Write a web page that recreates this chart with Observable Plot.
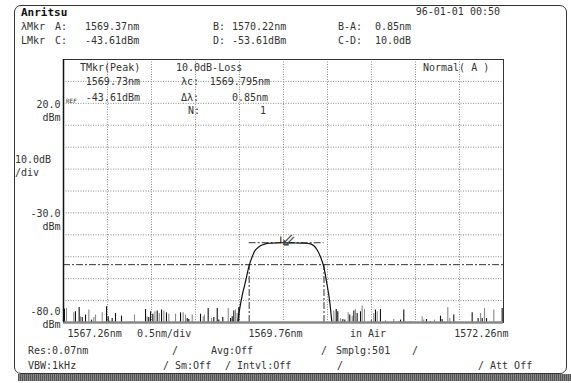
<!DOCTYPE html>
<html><head><meta charset="utf-8">
<script src="https://cdn.jsdelivr.net/npm/d3@7"></script>
<script src="https://cdn.jsdelivr.net/npm/@observablehq/plot@0.6"></script>
<style>
body{margin:0;background:#fff}
#wrap{position:relative;width:571px;height:383px;overflow:hidden;background:#fff;font-family:"DejaVu Sans Mono",monospace;font-size:10px;color:#333}
#wrap svg{position:absolute;left:0;top:0}
.t{position:absolute;white-space:pre;line-height:1;transform:translateY(-50%)}
#box{position:absolute;left:14px;top:5px;width:551px;height:367px;border:1px solid #333;border-radius:7px}
#shadow{position:absolute;left:18px;top:374px;width:553px;height:7px;background:repeating-linear-gradient(90deg,#555 0 1px,#888 1px 2px)}
</style></head><body><div id="wrap"><div id="box"></div><div id="shadow"></div></div>
<script>
// ---- data ----
const xDomain = [1567.26, 1572.26];
const yDomain = [-80, 40];
const xGrid = [1567.76, 1568.26, 1568.76, 1569.26, 1569.76, 1570.26, 1570.76, 1571.26, 1571.76];
const yGrid = [30, 20, 10, 0, -10, -20, -30, -40, -50, -60, -70];
const xTickVals = [1567.26, 1569.76, 1572.26];
const xTickLabels = ["1567.26nm", "1569.76nm", "1572.26nm"];
const yTickVals = [20, -30];
const yTickLabels = ["20.0\ndBm", "-30.0\ndBm"];
const yBottomVal = [-80];
const yBottomLabel = ["-80.0\ndBm"];

const markerA = 1569.37, markerB = 1570.22;
const levelC = -43.61, levelD = -53.61;
const peakWl = 1569.73, peakDb = -43.61;

const filterWl = [1569.24,1569.263,1569.291,1569.328,1569.366,1569.404,1569.442,1569.499,1569.555,1569.62,1569.73,1569.85,1569.97,1570.067,1570.105,1570.143,1570.180,1570.218,1570.249,1570.275,1570.294,1570.31];
const filterDb = [-80,-73.6,-67.5,-61.4,-54.6,-50,-46.9,-45,-44.1,-43.8,-43.61,-43.7,-43.8,-44.1,-45,-46.9,-50,-54.6,-61.4,-67.5,-73.6,-80];

const noiseWl = [1567.271,1567.294,1567.377,1567.396,1567.438,1567.453,1567.473,1567.510,1567.548,1567.578,1567.604,1567.624,1567.700,1567.749,1567.768,1567.786,1567.813,1567.851,1567.919,1568.021,1568.067,1568.192,1568.211,1568.229,1568.249,1568.275,1568.298,1568.325,1568.348,1568.374,1568.400,1568.430,1568.457,1568.533,1568.590,1568.620,1568.646,1568.666,1568.684,1568.723,1568.817,1568.848,1568.862,1568.904,1568.942,1568.968,1569.007,1569.025,1569.070,1569.132,1569.158,1569.177,1569.195,1569.215,1569.234,1569.252,
1570.332,1570.359,1570.377,1570.408,1570.434,1570.457,1570.495,1570.513,1570.541,1570.559,1570.578,1570.597,1570.635,1570.654,1570.680,1570.757,1570.786,1570.805,1570.825,1570.862,1570.919,1571.013,1571.070,1571.090,1571.127,1571.203,1571.336,1571.354,1571.385,1571.430,1571.476,1571.544,1571.563,1571.627,1571.650,1571.695,1571.904,1571.972,1571.999,1572.018,1572.044,1572.067,1572.150,1572.245];
const noiseDb = [-73.9,-73.6,-75.6,-75.1,-73.1,-77.4,-77.7,-76.6,-74.3,-78.9,-77.7,-76.6,-75.6,-72.8,-77.4,-79.4,-78.2,-75.9,-77.1,-79.7,-76.6,-74.1,-77.4,-77.7,-75.1,-76.2,-75.1,-74.7,-75.9,-74.3,-74.7,-75.6,-76.2,-76.2,-75.6,-75.6,-76.6,-78.2,-78.6,-76.6,-76.2,-77.4,-76.6,-73.6,-78.2,-77.7,-73.6,-78.9,-77.7,-73.6,-78.2,-77.4,-74.7,-74.3,-75.9,-73.1,
-74.7,-74.1,-75.1,-78.2,-78.6,-78.9,-75.6,-76.6,-77.1,-74.7,-74.1,-75.9,-75.1,-72.5,-74.1,-79.2,-75.9,-74.3,-75.1,-74.1,-79.2,-78.6,-79.5,-78.9,-74.3,-79.7,-77.4,-78.9,-78.6,-79.7,-78.9,-77.1,-78.6,-73.1,-78.2,-76.6,-75.6,-78.2,-75.9,-78.2,-73.6,-78.2,-74.3,-73.6];
const noiseShade = ["k","g","g","k","k","g","k","k","g","k","g","g","g","k","k","k","k","k","k","k","g","k","g","k","k","k","g","k","g","k","g","k","g","g","k","g","g","k","k","g","k","g","g","k","g","k","k","k","k","g","k","k","k","g","g","k",
"g","k","k","g","k","k","g","k","g","k","g","k","k","g","g","k","g","k","g","k","g","g","g","k","k","k","g","g","k","k","g","k","k","g","g","k","k","k","g","k","g","k","g","k"];

// ---- tables built from the arrays ----
const filter = filterWl.map((x, i) => ({x, y: filterDb[i]}));
const noise = noiseWl.map((x, i) => ({x, y: noiseDb[i], c: noiseShade[i] === "k" ? "#111" : "#8a8a8a"}));
const xTicks = xTickVals.map((x, i) => ({x, t: xTickLabels[i]}));
const yTicks = yTickVals.map((y, i) => ({y, t: yTickLabels[i]}));
const yBottom = yBottomVal.map((y, i) => ({y, t: yBottomLabel[i]}));

const FONT = "DejaVu Sans Mono";
const dashdot = "7,2,2,2";
const plot = Plot.plot({
  width: 571, height: 383,
  marginLeft: 63, marginRight: 68, marginTop: 59, marginBottom: 61,
  style: {background: "transparent", overflow: "visible", fontFamily: FONT, fontSize: "10px", color: "#333"},
  x: {domain: xDomain, axis: null},
  y: {domain: yDomain, axis: null},
  marks: [
    Plot.ruleX(xGrid, {stroke: "#888", strokeDasharray: "1,1.5", strokeWidth: 1}),
    Plot.ruleY(yGrid, {stroke: "#888", strokeDasharray: "1,1.5", strokeWidth: 1}),
    Plot.ruleY([levelD], {stroke: "#333", strokeDasharray: dashdot, strokeWidth: 1}),
    Plot.ruleY([levelC], {x1: markerA, x2: markerB, stroke: "#333", strokeDasharray: dashdot, strokeWidth: 1}),
    Plot.ruleX([markerA, markerB], {y1: -80, y2: levelD, stroke: "#333", strokeDasharray: dashdot, strokeWidth: 1}),
    Plot.ruleX(noise, {x: "x", y1: -80, y2: "y", stroke: "c", strokeWidth: 1.1}),
    Plot.line(filter, {x: "x", y: "y", stroke: "#111", strokeWidth: 1.2, curve: "catmull-rom"}),
    Plot.ruleX([peakWl], {y1: peakDb, y2: peakDb + 2.6, stroke: "#111", strokeWidth: 1}),
    Plot.text([peakWl], {x: d => d, y: [peakDb], text: ["⇙"], textAnchor: "start", lineAnchor: "bottom", dx: 0, dy: 3, fontSize: 18, fill: "#444", fontFamily: "DejaVu Sans"}),
    Plot.frame({stroke: "#333", strokeWidth: 1}),
    Plot.ruleY([-80], {stroke: "#888", strokeWidth: 2.5}),
    Plot.ruleX([xDomain[0]], {stroke: "#111", strokeWidth: 1.5}),
    Plot.text(yTicks, {y: "y", text: "t", frameAnchor: "left", textAnchor: "end", lineAnchor: "top", dx: -3, dy: -5, lineHeight: 1.3, fill: "#333"}),
    Plot.text(yBottom, {y: "y", text: "t", frameAnchor: "left", textAnchor: "end", lineAnchor: "bottom", dx: -3, dy: 5, lineHeight: 1.3, fill: "#333"}),
    Plot.text(xTicks.filter((d, i) => i === 0), {x: "x", text: "t", frameAnchor: "bottom", textAnchor: "start", lineAnchor: "top", dx: 4, dy: 7, fill: "#333"}),
    Plot.text(xTicks.filter((d, i) => i === 1), {x: "x", text: "t", frameAnchor: "bottom", textAnchor: "middle", lineAnchor: "top", dx: -8, dy: 7, fill: "#333"}),
    Plot.text(xTicks.filter((d, i) => i === 2), {x: "x", text: "t", frameAnchor: "bottom", textAnchor: "end", lineAnchor: "top", dx: 5, dy: 7, fill: "#333"})
  ]
});
const wrap = document.getElementById("wrap");
wrap.appendChild(plot);

// ---- screen text (instrument panel) ----
function T(s, x, cy, align, extra) {
  const e = document.createElement("div");
  e.className = "t";
  e.textContent = s;
  if (align === "right") e.style.right = (571 - x) + "px"; else e.style.left = x + "px";
  e.style.top = cy + "px";
  if (extra) Object.assign(e.style, extra);
  wrap.appendChild(e);
}
T("Anritsu", 21, 12, "left", {fontWeight: "bold", fontSize: "11px", color: "#111"});
T("96-01-01 00:50", 500, 12, "right");
T("λMkr", 21, 27); T("A:", 55, 27); T("1569.37nm", 85, 27); T("B:", 213, 27); T("1570.22nm", 232, 27); T("B-A:", 338, 27); T("0.85nm", 375, 27);
T("LMkr", 21, 41); T("C:", 55, 41); T("-43.61dBm", 85, 41); T("D:", 213, 41); T("-53.61dBm", 232, 41); T("C-D:", 338, 41); T("10.0dB", 375, 41);

T("TMkr(Peak)", 80, 68); T("10.0dB-Loss", 176, 68); T("Normal( A )", 423, 68);
T("1569.73nm", 140, 82, "right"); T("λc:", 181, 82); T("1569.795nm", 270, 82, "right");
T("REF", 66, 101, "left", {fontSize: "6px"}); T("-43.61dBm", 140, 98, "right"); T("Δλ:", 181, 98); T("0.85nm", 268, 98, "right");
T("N:", 188, 111); T("1", 266, 111, "right");
T("10.0dB", 15, 160); T("/div", 15, 173);

T("0.5nm/div", 137, 334); T("in Air", 350, 334);
T("Res:0.07nm", 28, 351); T("/", 172, 351); T("Avg:Off", 211, 351); T("/", 321, 351); T("Smplg:501", 336, 351); T("/", 412, 351);
T("VBW:1kHz", 28, 366); T("/ Sm:Off", 163, 366); T("/ Intvl:Off", 225, 366); T("/", 337, 366); T("/ Att Off", 478, 366);
</script></body></html>
